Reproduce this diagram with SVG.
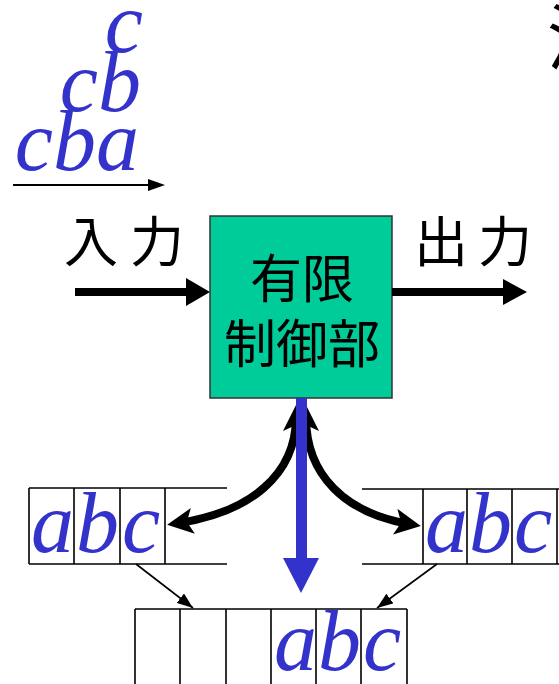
<svg xmlns="http://www.w3.org/2000/svg" width="559" height="684" viewBox="0 0 559 684">
<style>
.sym{font-family:"Liberation Serif","Times New Roman",serif;font-style:italic;fill:#3333CC;font-size:86px}
.jp{font-family:"Noto Sans CJK JP","Noto Sans",sans-serif;fill:#000;font-size:54px}
.box{font-family:"Noto Sans CJK JP","Noto Sans",sans-serif;fill:#000;font-size:52px;text-anchor:middle}
.tape{stroke:#000;stroke-width:1.6;fill:none}
.thick{stroke:#000;stroke-width:8;fill:none}
.thin{stroke:#000;stroke-width:1.6;fill:none}
</style>
<defs>
<marker id="bh" markerUnits="userSpaceOnUse" markerWidth="26" markerHeight="26" viewBox="0 0 26 26" refX="14" refY="13" orient="auto-start-reverse">
<path d="M0,0 L26,13 L0,26 L6,13 z" fill="#000"/>
</marker>
<marker id="th" markerUnits="userSpaceOnUse" markerWidth="16" markerHeight="12" viewBox="0 0 16 12" refX="16" refY="6" orient="auto">
<path d="M0,0 L16,6 L0,12 z" fill="#000"/>
</marker>
</defs>
<rect width="559" height="684" fill="#fff"/>

<g id="title-fragment">
<text class="jp" x="547" y="64" style="font-size:72px">決</text>
</g>

<g id="input-symbols">
<text class="sym" x="143" y="52" text-anchor="end">c</text>
<text class="sym" x="141" y="111" text-anchor="end">cb</text>
<text class="sym" x="139" y="170" text-anchor="end">cba</text>
</g>

<g id="label-input"><text class="jp" x="64" y="262">入</text><text class="jp" x="130" y="262">力</text></g>
<g id="label-output"><text class="jp" x="414" y="262">出</text><text class="jp" x="478" y="262">力</text></g>

<g id="control">
<rect x="210" y="216" width="182" height="182" fill="#00CC99" stroke="#333" stroke-width="1.5"/>
<text class="box" x="302" y="298">有限</text>
<text class="box" x="302" y="363">制御部</text>
</g>

<g id="tape-left">
<path class="tape" d="M29,488 H227 M29,564 H227 M29,488 V564 M74,488 V564 M120,488 V564 M165,488 V564"/>
<text class="sym" x="31" y="552">a</text>
<text class="sym" x="76" y="552">b</text>
<text class="sym" x="122" y="552">c</text>
</g>

<g id="tape-right">
<path class="tape" d="M362,489 H559 M362,564 H559 M423,489 V564 M467,489 V564 M512,489 V564 M557,489 V564"/>
<text class="sym" x="425" y="552">a</text>
<text class="sym" x="469" y="552">b</text>
<text class="sym" x="514" y="552">c</text>
</g>

<g id="tape-bottom">
<path class="tape" d="M135,609 H407 M135,609 V684 M180,609 V684 M226,609 V684 M271,609 V684 M316,609 V684 M361,609 V684 M407,609 V684"/>
<text class="sym" x="274" y="670">a</text>
<text class="sym" x="318" y="670">b</text>
<text class="sym" x="363" y="670">c</text>
</g>

<g id="connectors">
<line x1="13" y1="185" x2="150" y2="185" stroke="#000" stroke-width="2"/>
<polygon points="148,179 165,185 148,191" fill="#000"/>
<line x1="75" y1="292" x2="190" y2="292" class="thick"/>
<polygon points="186,278 210,292 186,306" fill="#000"/>
<line x1="392" y1="292" x2="506" y2="292" class="thick"/>
<polygon points="503,279 527,292 503,305" fill="#000"/>
<path class="thick" d="M296,417 C296,475 250,512 179,523" marker-start="url(#bh)" marker-end="url(#bh)"/>
<path class="thick" d="M306,417 C306,475 345,513 409,524" marker-start="url(#bh)" marker-end="url(#bh)"/>
<rect x="296" y="398" width="11" height="162" fill="#3333CC"/>
<polygon points="283,558 319,558 301,593" fill="#3333CC"/>
<line class="thin" x1="136" y1="564" x2="193" y2="608" marker-end="url(#th)"/>
<line class="thin" x1="437" y1="564" x2="377" y2="608" marker-end="url(#th)"/>
</g>
</svg>
